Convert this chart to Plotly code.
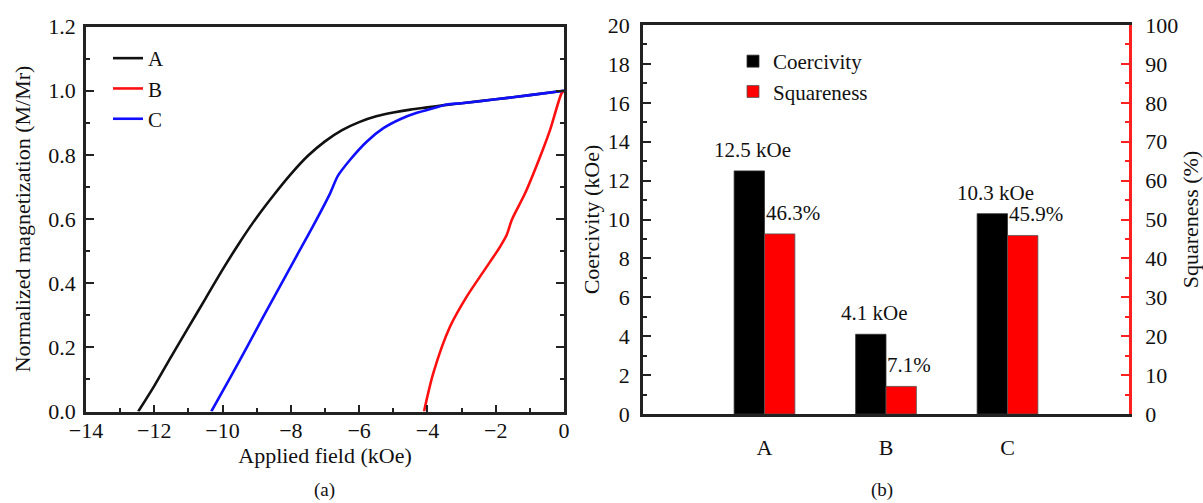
import plotly.graph_objects as go

# ---------------- data: demagnetization curves (panel a) ----------------
field_A = [-12.47, -12.0, -11.5, -11.0, -10.5, -10.0, -9.5, -9.0, -8.5, -8.0,
           -7.5, -7.0, -6.5, -6.0, -5.5, -5.0, -4.5, -4.0, -3.5, -3.0,
           -2.0, -1.0, 0.0]
mag_A = [0.0, 0.08, 0.172, 0.262, 0.352, 0.442, 0.527, 0.605, 0.675, 0.74,
         0.797, 0.842, 0.877, 0.902, 0.92, 0.932, 0.941, 0.948, 0.955, 0.961,
         0.973, 0.986, 1.0]

field_B = [-4.10, -3.83, -3.34, -2.85, -2.36, -1.87, -1.68, -1.53, -1.14, -0.70,
           -0.41, -0.07, 0.0]
mag_B = [0.0, 0.119, 0.264, 0.358, 0.436, 0.514, 0.55, 0.597, 0.68, 0.794,
         0.877, 0.992, 1.0]

field_C = [-10.33, -9.78, -9.29, -8.81, -8.32, -7.83, -7.34, -6.85, -6.62, -6.27,
           -5.78, -5.29, -4.80, -4.31, -3.83, -3.43, -3.0, -2.0, -1.0, 0.0]
mag_C = [0.0, 0.105, 0.2, 0.295, 0.39, 0.485, 0.58, 0.68, 0.735, 0.784,
         0.841, 0.883, 0.911, 0.931, 0.945, 0.957, 0.961, 0.973, 0.986, 1.0]

curve_names = ["A", "B", "C"]

# ---------------- data: bar chart (panel b) ----------------
samples = ["A", "B", "C"]
coercivity = [12.5, 4.1, 10.3]      # kOe
squareness = [46.3, 7.1, 45.9]      # %

FONT = "Liberation Serif, Times New Roman, serif"
AXC = "#222222"
FS = 22

fig = go.Figure()

# panel (a) curves
for name, xs, ys, col in [(curve_names[0], field_A, mag_A, "#111111"),
                          (curve_names[1], field_B, mag_B, "#ff1010"),
                          (curve_names[2], field_C, mag_C, "#1010ff")]:
    fig.add_trace(go.Scatter(x=xs, y=ys, mode="lines", name=name,
                             line=dict(color=col, width=2.6, shape="spline", smoothing=0.8),
                             xaxis="x", yaxis="y", legend="legend"))

# panel (b) bars
fig.add_trace(go.Bar(x=samples, y=coercivity, name="Coercivity",
                     marker=dict(color="#000000", line=dict(color="#333333", width=0.8)),
                     offset=-0.25, width=0.25, xaxis="x2", yaxis="y3", legend="legend2"))
fig.add_trace(go.Bar(x=samples, y=squareness, name="Squareness",
                     marker=dict(color="#ff0000", line=dict(color="#555555", width=0.8)),
                     offset=0.0, width=0.25, xaxis="x2", yaxis="y4", legend="legend2"))

annotations = []
for s, c, q in zip(samples, coercivity, squareness):
    annotations.append(dict(x=s, y=c, xref="x2", yref="y3", text=f"{c} kOe",
                            showarrow=False, xanchor="center", yanchor="bottom",
                            xshift=-12, yshift=7, font=dict(family=FONT, size=21, color="#111")))
    annotations.append(dict(x=s, y=q, xref="x2", yref="y4", text=f"{q}%",
                            showarrow=False, xanchor="left", yanchor="bottom",
                            xshift=-1, yshift=7, font=dict(family=FONT, size=21, color="#111")))
annotations.append(dict(x=0.270, y=(503-490)/503, xref="paper", yref="paper", text="(a)",
                        showarrow=False, xanchor="center", yanchor="middle",
                        font=dict(family=FONT, size=19, color="#111")))
annotations.append(dict(x=0.733, y=(503-490)/503, xref="paper", yref="paper", text="(b)",
                        showarrow=False, xanchor="center", yanchor="middle",
                        font=dict(family=FONT, size=19, color="#111")))

tickfont = dict(family=FONT, size=FS, color="#111")
titlefont = dict(family=FONT, size=FS, color="#111")

fig.update_layout(
    width=1203, height=503,
    margin=dict(l=0, r=0, t=0, b=0),
    paper_bgcolor="white", plot_bgcolor="white",
    barmode="overlay",
    font=dict(family=FONT, size=FS, color="#111"),
    annotations=annotations,
    xaxis=dict(domain=[86/1203, 564/1203], range=[-14, 0], dtick=2, automargin=False,
               ticks="inside", ticklen=7, tickwidth=2, tickcolor=AXC,
               ticklabelstandoff=-3,
               minor=dict(dtick=1, ticks="inside", ticklen=4, tickwidth=2, tickcolor=AXC),
               showline=True, linewidth=2.5, linecolor=AXC, mirror=True,
               showgrid=False, zeroline=False, tickfont=tickfont,
               title=dict(text="Applied field (kOe)", font=titlefont, standoff=0),
               anchor="y"),
    yaxis=dict(domain=[(503-411.5)/503, (503-26.5)/503], range=[0, 1.2], dtick=0.2,
               tickformat=".1f", automargin=False, ticklabelstandoff=3,
               ticks="inside", ticklen=8, tickwidth=2, tickcolor=AXC,
               minor=dict(dtick=0.1, ticks="inside", ticklen=4, tickwidth=2, tickcolor=AXC),
               showline=True, linewidth=2.5, linecolor=AXC, mirror="ticks",
               showgrid=False, zeroline=False, tickfont=tickfont,
               title=dict(text="Normalized magnetization (M/Mr)", font=titlefont, standoff=12),
               anchor="x"),
    xaxis2=dict(domain=[643/1203, 1129/1203], type="category", range=[-1, 3], automargin=False,
                ticks="", showline=True, linewidth=2.5, linecolor=AXC, mirror=True,
                showgrid=False, zeroline=False, tickfont=tickfont,
                ticklabelstandoff=12, anchor="y3"),
    yaxis3=dict(domain=[(503-414)/503, (503-25)/503], range=[0, 20], dtick=2, automargin=False,
                ticklabelstandoff=6,
                ticks="inside", ticklen=8, tickwidth=2, tickcolor=AXC,
                minor=dict(dtick=1, ticks="inside", ticklen=4, tickwidth=2, tickcolor=AXC),
                showline=True, linewidth=2.5, linecolor=AXC,
                showgrid=False, zeroline=False, tickfont=tickfont,
                title=dict(text="Coercivity (kOe)", font=titlefont, standoff=3),
                anchor="x2"),
    yaxis4=dict(range=[0, 100], dtick=10, overlaying="y3", side="right", automargin=False,
                ticklabelstandoff=9,
                ticks="inside", ticklen=8, tickwidth=2, tickcolor="#ff2020",
                minor=dict(dtick=5, ticks="inside", ticklen=4, tickwidth=2, tickcolor="#ff2020"),
                showline=True, linewidth=2.5, linecolor="#ff2020",
                showgrid=False, zeroline=False, tickfont=tickfont,
                title=dict(text="Squareness (%)", font=titlefont, standoff=8),
                anchor="x2"),
    legend=dict(x=108/1203, y=(503-38)/503, xanchor="left", yanchor="top",
                bgcolor="rgba(0,0,0,0)", font=dict(family=FONT, size=21, color="#111"),
                tracegroupgap=0),
    legend2=dict(x=733/1203, y=(503-41)/503, xanchor="left", yanchor="top",
                 bgcolor="rgba(0,0,0,0)", font=dict(family=FONT, size=21, color="#111"),
                 tracegroupgap=0),
)

fig.write_html("out.html", config={"displayModeBar": False},
               post_script="document.body.style.margin='0';document.body.style.padding='0';")
